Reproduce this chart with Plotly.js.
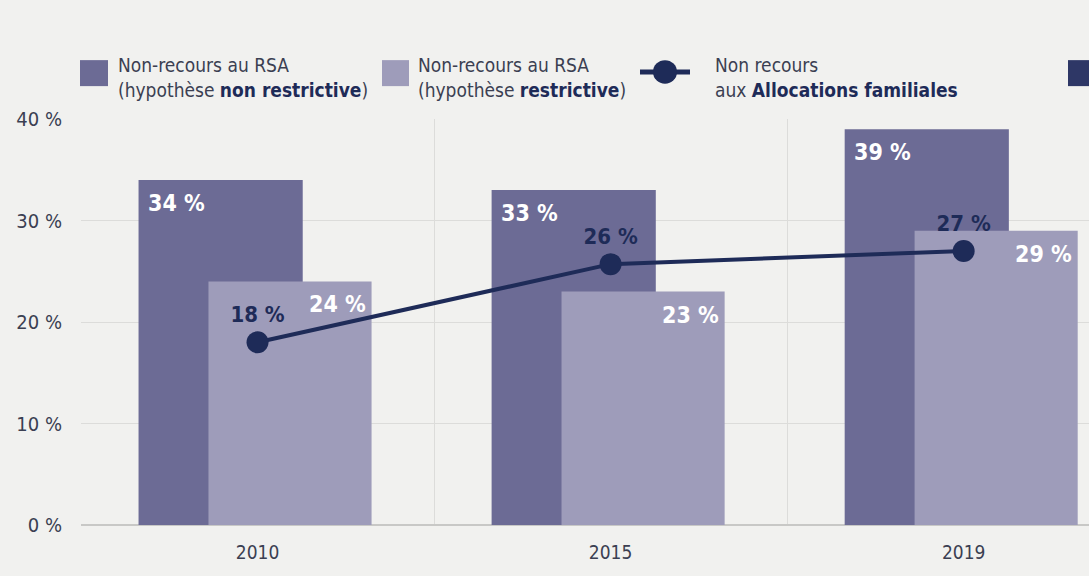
<!DOCTYPE html>
<html>
<head>
<meta charset="utf-8">
<script src="https://cdn.plot.ly/plotly-3.0.1.min.js"></script>
<style>
  html, body { margin: 0; padding: 0; background: #f1f1ef; }
  #chart { width: 1089px; height: 576px; }
</style>
</head>
<body>
<div id="chart"></div>
<script>
// data
const years = ['2010', '2015', '2019'];
const rsaNonRestrictive = [34, 33, 39];
const rsaRestrictive = [24, 23, 29];
const allocFamiliales = [18, 25.7, 27];
const yTicks = [0, 10, 20, 30, 40];

const FONT = '"DejaVu Sans Condensed", "Liberation Sans Narrow", sans-serif';
const DARK = '#6c6b95';
const LIGHT = '#9e9cba';
const NAVY = '#1e2b58';
const GREY = '#3b3f52';

const barDark = {
  type: 'bar', x: years, y: rsaNonRestrictive,
  offset: -0.337, width: 0.465,
  marker: { color: DARK },
  hoverinfo: 'skip'
};
const barLight = {
  type: 'bar', x: years, y: rsaRestrictive,
  offset: -0.139, width: 0.462,
  marker: { color: LIGHT },
  hoverinfo: 'skip'
};
const line = {
  type: 'scatter', x: years, y: allocFamiliales,
  mode: 'lines+markers+text',
  line: { color: NAVY, width: 4 },
  marker: { color: NAVY, size: 22 },
  text: allocFamiliales.map(v => '<b>' + Math.round(v) + ' %</b>'),
  textposition: 'top center',
  textfont: { family: FONT, size: 22, color: NAVY },
  cliponaxis: false,
  hoverinfo: 'skip'
};

// white labels inside the bars (x given as category index)
const annotations = [];
years.forEach((yr, i) => {
  annotations.push({
    x: i, y: rsaNonRestrictive[i], xref: 'x', yref: 'y',
    text: '<b>' + rsaNonRestrictive[i] + ' %</b>', showarrow: false,
    xanchor: 'left', yanchor: 'top', xshift: -112, yshift: -8,
    font: { family: FONT, size: 23, color: '#ffffff' }
  });
  annotations.push({
    x: i, y: rsaRestrictive[i], xref: 'x', yref: 'y',
    text: '<b>' + rsaRestrictive[i] + ' %</b>', showarrow: false,
    xanchor: 'right', yanchor: 'top', xshift: 110, yshift: -8,
    font: { family: FONT, size: 23, color: '#ffffff' }
  });
});

// hand-made legend
const legendFont = { family: FONT, size: 19, color: GREY };
annotations.push(
  { xref: 'paper', yref: 'paper', x: 35 / 1008, y: 1.103, xanchor: 'left', yanchor: 'middle', align: 'left',
    showarrow: false, font: legendFont,
    text: 'Non-recours au RSA<br>(hypothèse <b style="color:' + NAVY + '">non restrictive</b>)' },
  { xref: 'paper', yref: 'paper', x: 335 / 1008, y: 1.103, xanchor: 'left', yanchor: 'middle', align: 'left',
    showarrow: false, font: legendFont,
    text: 'Non-recours au RSA<br>(hypothèse <b style="color:' + NAVY + '">restrictive</b>)' },
  { xref: 'paper', yref: 'paper', x: 632 / 1008, y: 1.103, xanchor: 'left', yanchor: 'middle', align: 'left',
    showarrow: false, font: legendFont,
    text: 'Non recours<br>aux <b style="color:' + NAVY + '">Allocations familiales</b>' }
);

const shapes = [
  { type: 'rect', xref: 'paper', yref: 'paper', x0: -1 / 1008, x1: 27 / 1008, y0: 1.081, y1: 1.145,
    fillcolor: DARK, line: { width: 0 } },
  { type: 'rect', xref: 'paper', yref: 'paper', x0: 301 / 1008, x1: 328 / 1008, y0: 1.081, y1: 1.145,
    fillcolor: LIGHT, line: { width: 0 } },
  { type: 'line', xref: 'paper', yref: 'paper', x0: 559 / 1008, x1: 609 / 1008, y0: 1.116, y1: 1.116,
    line: { color: NAVY, width: 5 } },
  { type: 'circle', xref: 'paper', yref: 'paper', x0: 572 / 1008, x1: 596 / 1008, y0: 1.087, y1: 1.145,
    fillcolor: NAVY, line: { width: 0 } },
  { type: 'rect', xref: 'paper', yref: 'paper', x0: 987 / 1008, x1: 1015 / 1008, y0: 1.081, y1: 1.145,
    fillcolor: '#2e3766', line: { width: 0 } }
];

const layout = {
  width: 1089, height: 576,
  margin: { l: 81, r: 0, t: 119, b: 51 },
  paper_bgcolor: '#f1f1ef',
  plot_bgcolor: '#f1f1ef',
  barmode: 'overlay',
  showlegend: false,
  font: { family: FONT, color: GREY },
  xaxis: {
    type: 'category',
    range: [-0.5, 2.355],
    tickson: 'boundaries',
    showgrid: true, gridcolor: '#dcdcda', gridwidth: 1,
    ticks: '', ticklabelstandoff: 14,
    showline: false, zeroline: false,
    tickfont: { family: FONT, size: 19, color: GREY },
    fixedrange: true
  },
  yaxis: {
    range: [0, 40],
    tickvals: yTicks,
    ticktext: yTicks.map(v => v + ' %'),
    showgrid: true, gridcolor: '#dcdcda', gridwidth: 1,
    zeroline: true, zerolinecolor: '#c8c8c6', zerolinewidth: 2,
    ticks: 'outside', ticklen: 14, tickcolor: 'rgba(0,0,0,0)',
    tickfont: { family: FONT, size: 20, color: GREY },
    fixedrange: true
  },
  annotations: annotations,
  shapes: shapes
};

Plotly.newPlot('chart', [barDark, barLight, line], layout, { displayModeBar: false, staticPlot: true });
</script>
</body>
</html>
